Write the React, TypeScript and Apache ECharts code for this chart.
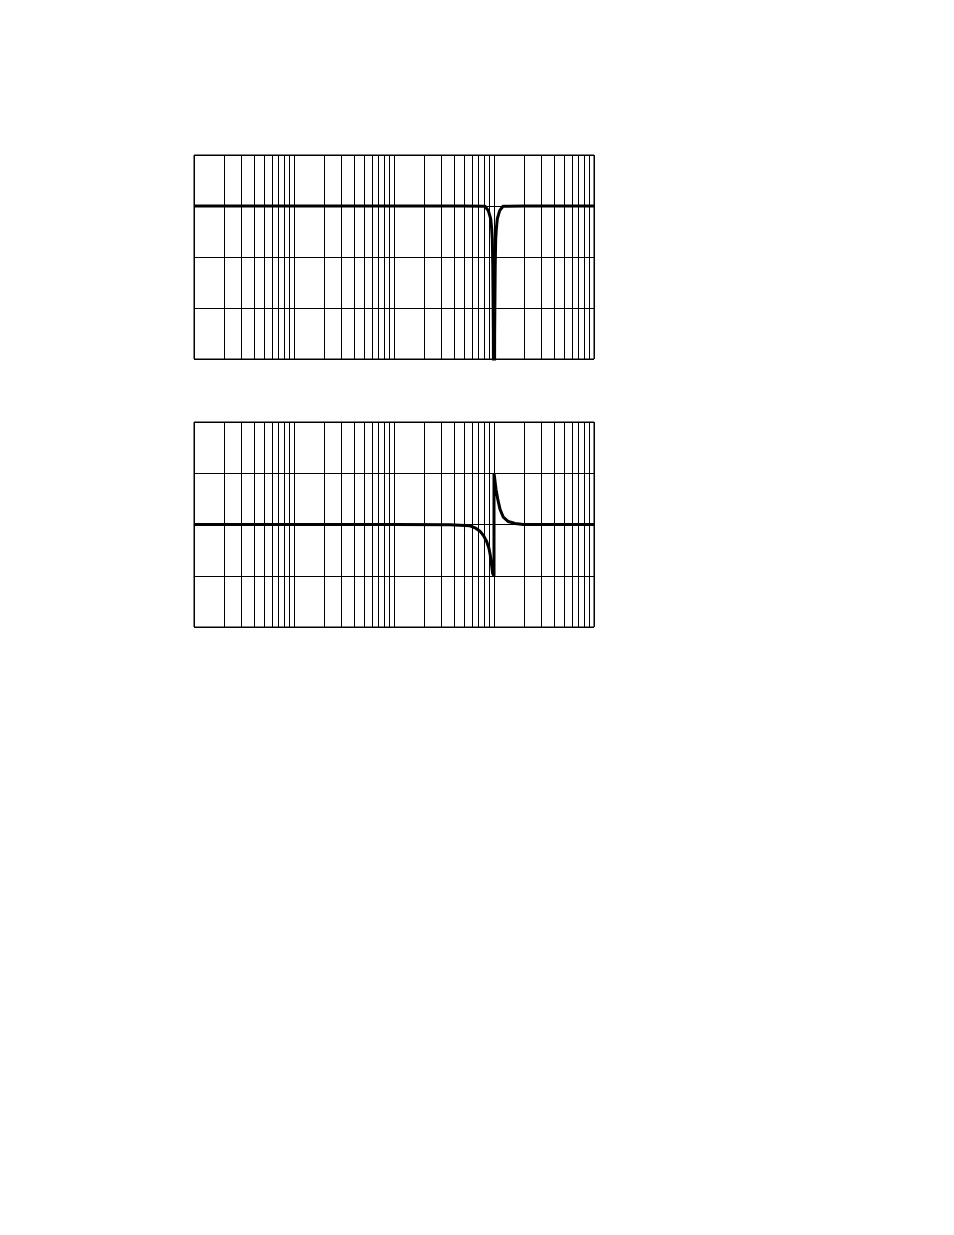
import { useEffect, useRef } from "react";
import * as echarts from "echarts";

// Frequency axis (Hz, log) – decades and the 2..9 minor grid lines
const decades = [1, 10, 100, 1000];
const multipliers = [2, 3, 4, 5, 6, 7, 8, 9];

// Magnitude response (dB)
const magFreq = [1, 10, 100, 500, 813, 877, 927, 948, 962, 973, 985, 1000, 1015, 1028, 1040, 1055, 1079, 1140, 1230, 2000, 10000];
const magDb = [0, 0, 0, 0, -0.05, -0.9, -2.5, -4.5, -6.5, -12, -25, -80, -25, -12, -6.5, -4.5, -2.5, -0.9, -0.05, 0, 0];

// Phase response (degrees)
const phaseFreq = [1, 100, 363, 575, 646, 724, 782, 845, 891, 918, 948, 970, 990, 1000, 1000, 1007, 1047, 1089, 1148, 1239, 1390, 1622, 1963, 10000];
const phaseDeg = [0, 0, -0.5, -2.3, -5.8, -11.7, -19, -30, -42, -54, -72, -86, -89, -90, 90, 86, 62, 45, 27, 12.8, 5.2, 1.7, 0, 0];

const magRange = { min: -30, max: 10, interval: 10 };
const phaseRange = { min: -180, max: 180, interval: 90 };

export default function App() {
  const chartRef = useRef<HTMLDivElement>(null);

  useEffect(() => {
    if (!chartRef.current) return;
    const chart = echarts.init(chartRef.current, undefined, { renderer: "svg" });

    const minorLines = decades.flatMap((d) => multipliers.map((m) => ({ xAxis: m * d })));

    const gridLine = { color: "#000", width: 1, type: "solid" as const };

    const xAxisBase = {
      type: "log" as const,
      logBase: 10,
      min: 1,
      max: 10000,
      axisLine: { show: false },
      axisTick: { show: false },
      axisLabel: { show: false },
      splitLine: { show: true, lineStyle: gridLine },
    };

    const yAxisBase = {
      type: "value" as const,
      axisLine: { show: false },
      axisTick: { show: false },
      axisLabel: { show: false },
      splitLine: { show: true, lineStyle: gridLine },
    };

    const markLine = {
      silent: true,
      symbol: ["none", "none"],
      label: { show: false },
      emphasis: { disabled: true },
      lineStyle: gridLine,
      data: minorLines,
    };

    const curveStyle = { color: "#000", width: 3 };

    chart.setOption({
      animation: false,
      backgroundColor: "#fff",
      grid: [
        { left: 194, top: 155, width: 400, height: 204, show: true, borderColor: "#000", borderWidth: 1 },
        { left: 194, top: 422, width: 400, height: 205, show: true, borderColor: "#000", borderWidth: 1 },
      ],
      xAxis: [
        { ...xAxisBase, gridIndex: 0 },
        { ...xAxisBase, gridIndex: 1 },
      ],
      yAxis: [
        { ...yAxisBase, gridIndex: 0, ...magRange },
        { ...yAxisBase, gridIndex: 1, ...phaseRange },
      ],
      series: [
        {
          name: "Magnitude",
          type: "line",
          xAxisIndex: 0,
          yAxisIndex: 0,
          data: magFreq.map((f, i) => [f, magDb[i]]),
          showSymbol: false,
          symbol: "none",
          clip: true,
          lineStyle: curveStyle,
          z: 5,
          markLine,
        },
        {
          name: "Phase",
          type: "line",
          xAxisIndex: 1,
          yAxisIndex: 1,
          data: phaseFreq.map((f, i) => [f, phaseDeg[i]]),
          showSymbol: false,
          symbol: "none",
          clip: true,
          lineStyle: curveStyle,
          z: 5,
          markLine,
        },
      ],
    });

    return () => {
      chart.dispose();
    };
  }, []);

  return (
    <div
      ref={chartRef}
      style={{ position: "absolute", left: 0, top: 0, width: 954, height: 1235 }}
    />
  );
}
